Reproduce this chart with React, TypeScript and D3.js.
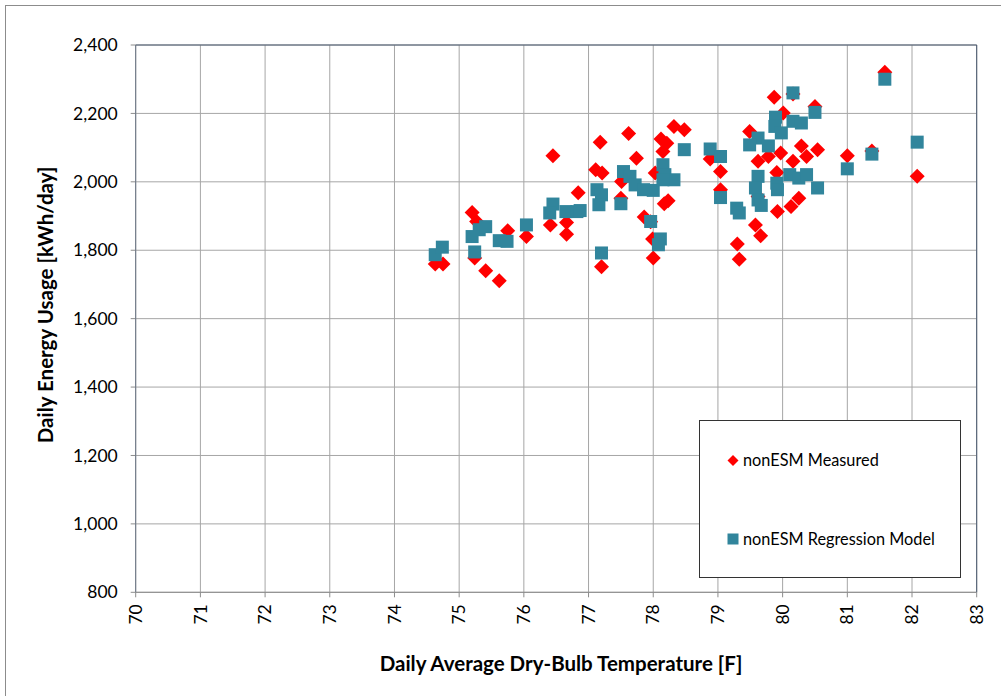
import React from "react";
import * as d3 from "d3";

const measuredTemp = [74.63,74.75,75.2,75.27,75.24,75.41,75.62,75.75,76.04,76.41,76.45,76.66,76.66,76.84,77.18,77.62,78.32,78.48,78.12,78.21,78.15,77.74,77.11,77.21,77.51,77.5,78.17,78.23,77.86,78.0,77.2,78.03,78.88,77.99,77.96,79.87,80.16,80.01,80.5,79.49,79.04,79.04,79.62,79.78,79.97,80.16,80.29,80.37,80.54,79.91,79.62,79.92,80.13,80.25,79.58,79.66,79.3,79.33,81.58,81.0,81.38,82.08];
const measuredKwh = [1760,1760,1910,1884,1777,1740,1711,1857,1840,1874,2076,1881,1847,1968,2116,2141,2162,2152,2125,2113,2089,2069,2035,2026,2001,1952,1936,1945,1897,1777,1752,2026,2067,1833,1883,2247,2257,2201,2220,2147,2030,1977,2060,2074,2084,2060,2105,2074,2094,2027,1957,1913,1928,1952,1874,1842,1818,1774,2320,2076,2090,2016];

const modelTemp = [74.63,74.74,75.2,75.31,75.41,75.24,75.62,75.74,76.04,76.45,76.4,76.65,76.82,78.48,78.88,77.54,77.64,77.72,77.85,78.0,78.15,78.18,78.32,78.15,77.13,77.2,77.16,77.5,76.87,77.96,78.11,78.08,77.2,80.16,80.5,79.89,80.16,80.29,79.88,79.98,79.62,79.49,79.78,79.04,79.62,79.58,79.62,79.67,79.91,79.92,80.11,80.25,80.37,80.54,79.04,79.29,79.33,81.58,81.0,81.38,82.08];
const modelKwh = [1787,1809,1840,1860,1869,1795,1828,1826,1874,1935,1909,1913,1913,2094,2096,2030,2016,1991,1977,1975,2050,2021,2006,2006,1977,1962,1933,1936,1916,1884,1833,1816,1792,2260,2203,2189,2177,2172,2162,2143,2128,2108,2105,2074,2016,1982,1947,1931,1996,1977,2021,2011,2021,1982,1954,1923,1909,2300,2038,2081,2116];

const xTicks = [70,71,72,73,74,75,76,77,78,79,80,81,82,83];
const yTicks = [800,1000,1200,1400,1600,1800,2000,2200,2400];
const seriesNames = ["nonESM Measured", "nonESM Regression Model"];
const xTitle = "Daily Average Dry-Bulb Temperature [F]";
const yTitle = "Daily Energy Usage [kWh/day]";

const RED = "#FF0000";
const TEAL = "#31859C";
const FONT = "Lato, 'Open Sans', sans-serif";

export default function App() {
  const left = 135.7, right = 976.7, top = 45, bottom = 592.3;
  const x = d3.scaleLinear().domain([70, 83]).range([left, right]);
  const y = d3.scaleLinear().domain([800, 2400]).range([bottom, top]);
  const fmt = d3.format(",");
  const dSize = 7.5; // half-diagonal of diamond
  const sSize = 13; // square side

  const diamond = (cx: number, cy: number, r: number) =>
    `M${cx},${cy - r}L${cx + r},${cy}L${cx},${cy + r}L${cx - r},${cy}Z`;

  return (
    <svg width={1001} height={696} style={{ position: "absolute", left: 0, top: 0, background: "#fff" }}>
      <rect x={0} y={0} width={1001} height={696} fill="#fff" />
      <rect x={5.5} y={5.5} width={1000} height={700} fill="none" stroke="#8c8c8c" strokeWidth={1} />
      {/* grid */}
      {xTicks.map((t) => (
        <line key={"gx" + t} x1={x(t)} x2={x(t)} y1={top} y2={bottom} stroke="#a6a6a6" strokeWidth={1} />
      ))}
      {yTicks.map((t) => (
        <line key={"gy" + t} x1={left} x2={right} y1={y(t)} y2={y(t)} stroke="#a6a6a6" strokeWidth={1} />
      ))}
      {/* ticks */}
      {xTicks.map((t) => (
        <line key={"tx" + t} x1={x(t)} x2={x(t)} y1={bottom} y2={bottom + 5} stroke="#8c8c8c" />
      ))}
      {yTicks.map((t) => (
        <line key={"ty" + t} x1={left - 5} x2={left} y1={y(t)} y2={y(t)} stroke="#8c8c8c" />
      ))}
      {/* frame */}
      <line x1={left} x2={right} y1={top} y2={top} stroke="#4a5a70" />
      <line x1={right} x2={right} y1={top} y2={bottom} stroke="#4a5a70" />
      <line x1={left} x2={left} y1={top} y2={bottom} stroke="#6a7585" />
      <line x1={left} x2={right} y1={bottom} y2={bottom} stroke="#8c8c8c" />
      {/* tick labels */}
      {yTicks.map((t) => (
        <text key={"ly" + t} x={left - 18} y={y(t)} dy="0.35em" textAnchor="end" fontFamily={FONT} fontSize={17.5} fill="#000">
          {fmt(t)}
        </text>
      ))}
      {xTicks.map((t) => (
        <text key={"lx" + t} transform={`translate(${x(t)},${bottom + 12}) rotate(-90)`} dy="0.35em" textAnchor="end" fontFamily={FONT} fontSize={17.5} fill="#000">
          {t}
        </text>
      ))}
      {/* axis titles */}
      <text x={561} y={671} textAnchor="middle" fontFamily={FONT} fontWeight="bold" fontSize={20.5} fill="#000">{xTitle}</text>
      <text transform={`translate(46,305) rotate(-90)`} dy="0.35em" textAnchor="middle" fontFamily={FONT} fontWeight="bold" fontSize={20.5} fill="#000">{yTitle}</text>
      {/* data */}
      {measuredTemp.map((t, i) => (
        <path key={"m" + i} d={diamond(x(t), y(measuredKwh[i]), dSize)} fill={RED} />
      ))}
      {modelTemp.map((t, i) => (
        <rect key={"r" + i} x={x(t) - sSize / 2} y={y(modelKwh[i]) - sSize / 2} width={sSize} height={sSize} fill={TEAL} />
      ))}
      {/* legend */}
      <rect x={699.5} y={420.5} width={261} height={157} fill="#fff" stroke="#333" strokeWidth={1} />
      <path d={diamond(733, 460.5, 5.5)} fill={RED} />
      <text x={743} y={460.5} dy="0.35em" fontFamily={FONT} fontSize={16.3} fill="#000">{seriesNames[0]}</text>
      <rect x={727.5} y={533.5} width={11} height={11} fill={TEAL} />
      <text x={743} y={539} dy="0.35em" fontFamily={FONT} fontSize={16.3} fill="#000">{seriesNames[1]}</text>
    </svg>
  );
}
